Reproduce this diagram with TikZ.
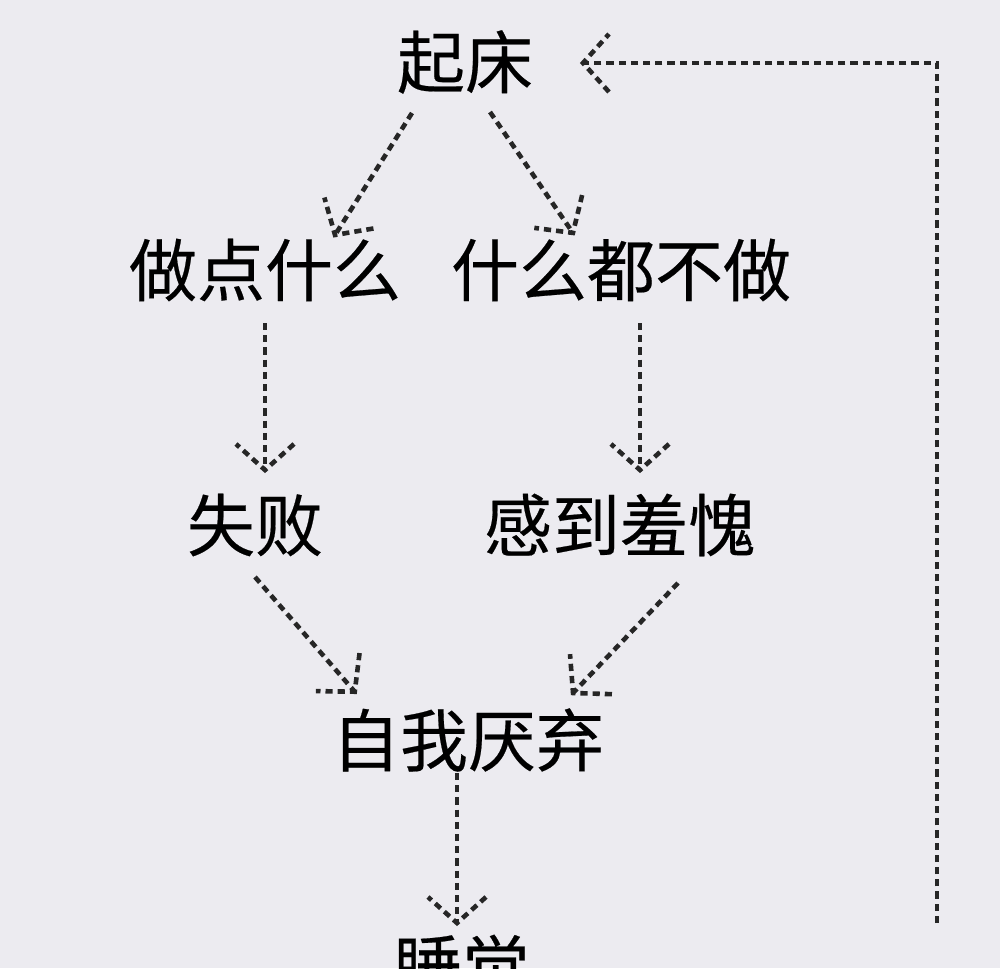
\documentclass[tikz,border=0pt]{standalone}
\usepackage{fontspec}
\newfontfamily\cjk[FakeBold=0.3]{Noto Sans CJK SC}
\usetikzlibrary{calc,decorations.markings}
\definecolor{bgc}{HTML}{ECEBF0}
\definecolor{dotc}{HTML}{262626}
\tikzset{
  lbl/.style={inner sep=0pt, font=\cjk\fontsize{34}{34}\selectfont, text=black},
  dotline/.style={draw=dotc, line width=2.3pt, dash pattern=on 3.6pt off 2.5pt},
  conn/.style={dotline, postaction={decorate}, decoration={markings,
     mark=at position 1 with {\draw[draw=dotc, line width=2.3pt, dash pattern=on 3.6pt off 2.5pt]
       (-13pt,14.5pt) -- (0,0) -- (-13pt,-14.5pt);}}}
}
\begin{document}
\begin{tikzpicture}[x=0.5pt,y=-0.5pt]
\fill[bgc] (0,0) rectangle (1000,968);
\useasboundingbox (0,0) rectangle (1000,968);
\node[lbl] (qc) at (465,62) {起床};
\node[lbl] (zd) at (265,270) {做点什么};
\node[lbl] (bz) at (621,270) {什么都不做};
\node[lbl] (sb) at (255,525) {失败};
\node[lbl] (gd) at (620,525) {感到羞愧};
\node[lbl] (zw) at (468,740) {自我厌弃};
\node[lbl] (sj) at (462,966) {睡觉};
\coordinate (fb) at (937,923);
\draw[conn] ($(qc.center)+(-53,51)$) -- ($(zd.center)+(70,-35)$);
\draw[conn] ($(qc.center)+(25,50)$) -- ($(bz.center)+(-48,-37)$);
\draw[conn] ($(zd.center)+(0,53)$) -- ($(sb.center)+(10,-55)$);
\draw[conn] ($(bz.center)+(19,53)$) -- ($(gd.center)+(20,-55)$);
\draw[conn] ($(sb.center)+(0,52)$) -- ($(zw.center)+(-113,-48)$);
\draw[conn] ($(gd.center)+(58,58)$) -- ($(zw.center)+(105,-47)$);
\draw[conn] ($(zw.center)+(-11,33)$) -- ($(sj.center)+(-5,-43)$);
\draw[conn] (fb) |- ($(qc.center)+(118,1)$);
\end{tikzpicture}
\end{document}
